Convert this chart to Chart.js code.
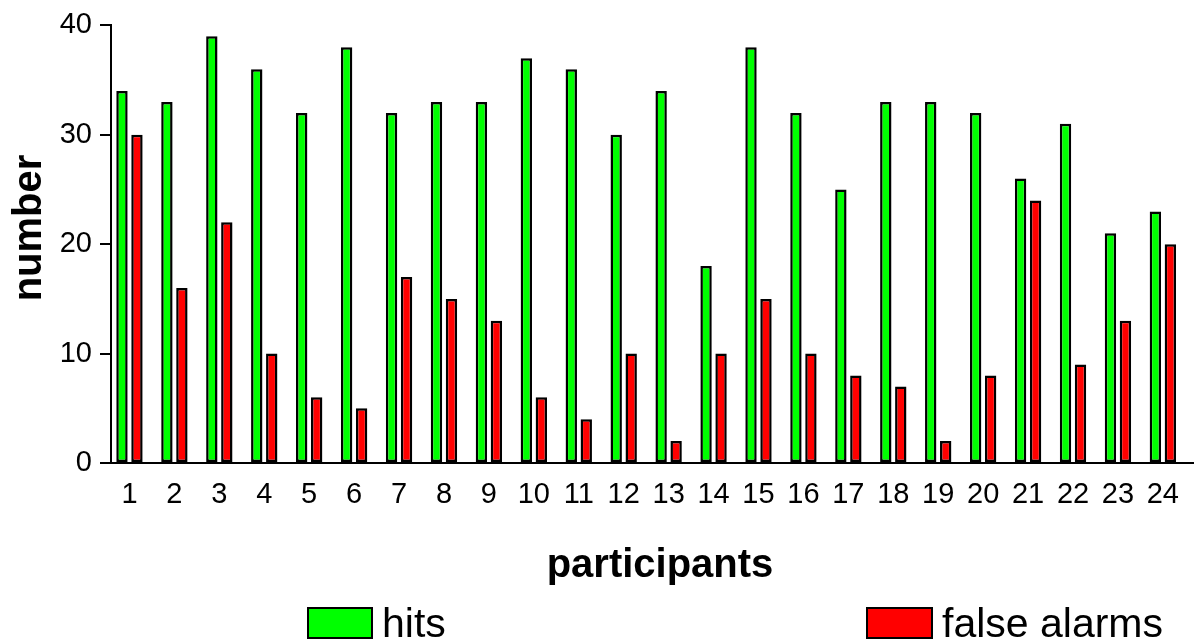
<!DOCTYPE html>
<html>
<head>
<meta charset="utf-8">
<script src="https://cdn.jsdelivr.net/npm/chart.js@4"></script>
<style>
  html, body { margin: 0; padding: 0; background: #fff; }
  #wrap { width: 1194px; height: 639px; position: relative; }
</style>
</head>
<body>
<div id="wrap"><canvas id="c" width="1194" height="639"></canvas></div>
<script>
const participants = ['1','2','3','4','5','6','7','8','9','10','11','12','13','14','15','16','17','18','19','20','21','22','23','24'];
const hits =        [34,33,39,36,32,38,32,33,33,37,36,30,34,18,38,32,25,33,33,32,26,31,21,23];
const falseAlarms = [30,16,22,10, 6, 5,17,15,13, 6, 4,10, 2,10,15,10, 8, 7, 2, 8,24, 9,13,20];
const yTicks = [0,10,20,30,40];
const seriesNames = ['hits','false alarms'];
const xTitle = 'participants';
const yTitle = 'number';

const FONT = '"Liberation Sans", Arial, Helvetica, sans-serif';

const extrasPlugin = {
  id: 'extras',
  afterDraw(chart) {
    const ctx = chart.ctx;
    ctx.save();
    ctx.fillStyle = '#000';
    ctx.font = 'bold 40px ' + FONT;
    ctx.textAlign = 'center';
    ctx.textBaseline = 'alphabetic';
    ctx.save();
    ctx.translate(41, 228);
    ctx.rotate(-Math.PI / 2);
    ctx.fillText(yTitle, 0, 0);
    ctx.restore();
    ctx.fillText(xTitle, 660, 577);
    const items = [
      { x: 308, w: 64, text: seriesNames[0], color: chart.data.datasets[0].backgroundColor },
      { x: 867, w: 65, text: seriesNames[1], color: chart.data.datasets[1].backgroundColor }
    ];
    ctx.font = '41px ' + FONT;
    ctx.textAlign = 'left';
    items.forEach(it => {
      ctx.fillStyle = it.color;
      ctx.fillRect(it.x, 608, it.w, 30);
      ctx.strokeStyle = '#000';
      ctx.lineWidth = 2;
      ctx.strokeRect(it.x, 608, it.w, 30);
      ctx.fillStyle = '#000';
      ctx.fillText(it.text, it.x + it.w + 10, 637);
    });
    ctx.restore();
  }
};

new Chart(document.getElementById('c'), {
  type: 'bar',
  data: {
    labels: participants,
    datasets: [
      { label: seriesNames[0], data: hits, backgroundColor: '#00ff00', borderColor: '#000', borderWidth: 2.5,
        borderSkipped: false, categoryPercentage: 0.667, barPercentage: 0.76 },
      { label: seriesNames[1], data: falseAlarms, backgroundColor: '#ff0000', borderColor: '#000', borderWidth: 2.5,
        borderSkipped: false, categoryPercentage: 0.667, barPercentage: 0.76 }
    ]
  },
  options: {
    responsive: false,
    animation: false,
    layout: { padding: { top: 25, right: 0, bottom: 0, left: 0 } },
    plugins: { legend: { display: false }, tooltip: { enabled: false }, title: { display: false } },
    scales: {
      x: {
        type: 'linear',
        min: 0.589,
        max: 24.68,
        offset: false,
        grid: { display: true, drawOnChartArea: false, drawTicks: false, offset: false },
        border: { display: true, color: '#000', width: 2 },
        afterBuildTicks(scale) { scale.ticks = participants.map((p, i) => ({ value: i + 1 })); },
        afterFit(scale) { scale.height = 176; },
        ticks: {
          autoSkip: false,
          maxRotation: 0,
          padding: 15,
          color: '#000',
          font: { family: FONT, size: 29 },
          callback: (v) => participants[Math.round(v) - 1]
        }
      },
      y: {
        min: 0,
        max: 40,
        afterBuildTicks(scale) { scale.ticks = yTicks.map(v => ({ value: v })); },
        afterFit(scale) { scale.width = 111; },
        grid: { drawOnChartArea: false, drawTicks: true, tickLength: 11, color: '#000', lineWidth: 2 },
        border: { display: true, color: '#000', width: 2 },
        ticks: {
          padding: 8,
          color: '#000',
          font: { family: FONT, size: 29 }
        }
      }
    }
  },
  plugins: [extrasPlugin]
});
</script>
</body>
</html>
